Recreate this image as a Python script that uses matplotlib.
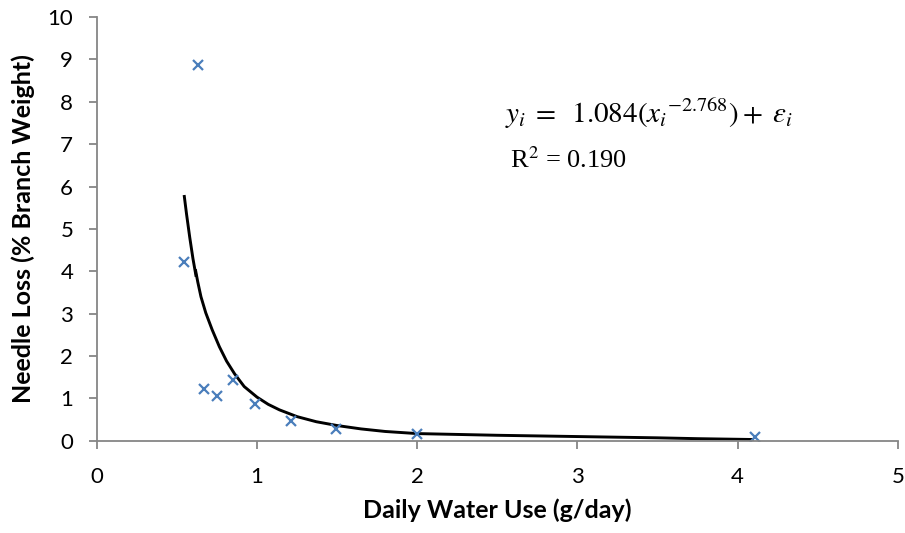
import matplotlib.pyplot as plt

water_use = [0.545, 0.63, 0.67, 0.75, 0.85, 0.99, 1.21, 1.49, 2.0, 4.11]
needle_loss = [4.22, 8.87, 1.22, 1.06, 1.44, 0.88, 0.47, 0.27, 0.16, 0.08]

# fitted curve (drawn in two pieces, as in the original)
fit_x1 = [0.545, 0.56, 0.58, 0.60, 0.62]
fit_y1 = [5.80, 5.35, 4.80, 4.30, 3.87]
fit_x2 = [0.615, 0.63, 0.65, 0.68, 0.72, 0.765, 0.81, 0.86, 0.92, 1.0, 1.07, 1.14,
          1.25, 1.37, 1.5, 1.65, 1.8, 2.0, 2.25, 2.5, 2.75, 3.0, 3.25, 3.5, 3.75, 4.1]
fit_y2 = [4.05, 3.75, 3.40, 3.02, 2.62, 2.22, 1.88, 1.58, 1.28, 1.03, 0.86, 0.73,
          0.57, 0.45, 0.36, 0.28, 0.22, 0.17, 0.15, 0.13, 0.115, 0.10, 0.085, 0.07,
          0.05, 0.03]

equation = r"$y_i\;=\;\;1.084(x_i{}^{-2.768})+\;\varepsilon_i$"
r2_text = "R$^2$ = 0.190"

plt.rcParams['mathtext.fontset'] = 'stix'
plt.rcParams['font.family'] = ['Lato', 'DejaVu Sans']

fig = plt.figure(figsize=(9.05, 5.33), dpi=100)
ax = fig.add_axes([0.107, 0.173, 0.885, 0.795])

ax.plot(fit_x1, fit_y1, color='black', lw=2.1, solid_capstyle='butt')
ax.plot(fit_x2, fit_y2, color='black', lw=2.1, solid_capstyle='butt')
ax.plot(water_use, needle_loss, linestyle='none', marker='x', markersize=7,
        markeredgewidth=1.6, color='#4A7EBB')

ax.set_xlim(0, 5)
ax.set_ylim(0, 10)
ax.set_xticks(range(0, 6))
ax.set_yticks(range(0, 11))

for side in ['top', 'right']:
    ax.spines[side].set_visible(False)
for side in ['left', 'bottom']:
    ax.spines[side].set_color('#868686')
    ax.spines[side].set_linewidth(1.3)
ax.tick_params(direction='out', length=6, width=1.3, color='#868686',
               labelsize=16)
ax.tick_params(axis='y', pad=11)
ax.tick_params(axis='x', pad=13)

ax.set_xlabel("Daily Water Use (g/day)", fontsize=18, fontweight='bold', labelpad=8)
ax.set_ylabel("Needle Loss (% Branch Weight)", fontsize=18, fontweight='bold', labelpad=9)

ax.text(2.55, 7.72, equation, fontsize=21, va='center', ha='left')
ax.text(2.58, 6.62, r2_text, fontsize=19, va='center', ha='left',
        family='Liberation Serif')

fig.savefig("out.png", dpi=100)
